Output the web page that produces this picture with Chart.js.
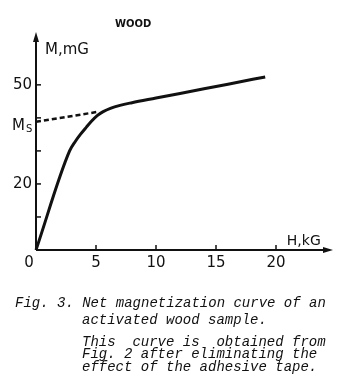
<!DOCTYPE html>
<html>
<head>
<meta charset="utf-8">
<script src="https://cdn.jsdelivr.net/npm/chart.js@4"></script>
<style>
  html, body { margin: 0; padding: 0; background: #fff; }
  #wrap { position: relative; width: 344px; height: 388px; overflow: hidden; }
  canvas { position: absolute; left: 0; top: 0; }
  .cap { position: absolute; font-family: "Liberation Mono", "DejaVu Sans Mono", monospace; font-style: italic; font-size: 14px; color: #111; white-space: pre; line-height: 14px; }
</style>
</head>
<body>
<div id="wrap">
  <canvas id="chart" width="344" height="388"></canvas>
  <div class="cap" style="left:15px; top:296px;">Fig. 3. Net magnetization curve of an</div>
  <div class="cap" style="left:82px; top:313px;">activated wood sample.</div>
  <div class="cap" style="left:82px; top:335px;">This  curve is  obtained from</div>
  <div class="cap" style="left:82px; top:347px;">Fig. 2 after eliminating the</div>
  <div class="cap" style="left:82px; top:360px;">effect of the adhesive tape.</div>
</div>
<script>
// magnetization curve (H in kG, M in mG)
const fieldH = [0, 2.8, 3.3, 3.7, 4.2, 4.6, 5.1, 5.6, 6.2, 7, 8, 10, 12, 14, 16, 19.1];
const magM = [0, 30, 33, 35, 37.2, 38.9, 40.7, 41.9, 42.9, 43.8, 44.6, 46, 47.4, 48.8, 50.2, 52.4];

// dashed extrapolation back to Ms
const dashH = [0, 5.1];
const dashM = [38.8, 41.8];

const xTicks = [5, 10, 15, 20];
const yTicks = [10, 20, 30, 40, 50];
const yTickLabels = { 20: "20", 50: "50" };
const msValue = 38.8;

const curvePts = fieldH.map((h, i) => ({ x: h, y: magM[i] }));
const dashPts = dashH.map((h, i) => ({ x: h, y: dashM[i] }));

const axesPlugin = {
  id: "handAxes",
  afterDraw(chart) {
    const ctx = chart.ctx;
    const xs = chart.scales.x;
    const ys = chart.scales.y;
    const x0 = xs.getPixelForValue(0);
    const y0 = ys.getPixelForValue(0);
    const area = chart.chartArea;

    ctx.save();
    ctx.strokeStyle = "#111";
    ctx.fillStyle = "#111";
    ctx.lineWidth = 2;
    ctx.lineCap = "butt";

    // y axis + arrow
    ctx.beginPath();
    ctx.moveTo(x0, y0);
    ctx.lineTo(x0, area.top + 4);
    ctx.stroke();
    ctx.beginPath();
    ctx.moveTo(x0, area.top);
    ctx.lineTo(x0 - 3, area.top + 10);
    ctx.lineTo(x0 + 3, area.top + 10);
    ctx.closePath();
    ctx.fill();

    // x axis + arrow
    ctx.beginPath();
    ctx.moveTo(x0, y0);
    ctx.lineTo(area.right - 4, y0);
    ctx.stroke();
    ctx.beginPath();
    ctx.moveTo(area.right, y0);
    ctx.lineTo(area.right - 10, y0 - 3);
    ctx.lineTo(area.right - 10, y0 + 3);
    ctx.closePath();
    ctx.fill();

    // ticks (inward)
    ctx.lineWidth = 1.5;
    xTicks.forEach(v => {
      const px = xs.getPixelForValue(v);
      ctx.beginPath();
      ctx.moveTo(px, y0);
      ctx.lineTo(px, y0 - 5);
      ctx.stroke();
    });
    yTicks.forEach(v => {
      const py = ys.getPixelForValue(v);
      ctx.beginPath();
      ctx.moveTo(x0, py);
      ctx.lineTo(x0 + 5, py);
      ctx.stroke();
    });

    // tick labels
    ctx.font = "15px 'DejaVu Sans'";
    ctx.textBaseline = "middle";
    ctx.textAlign = "center";
    xTicks.forEach(v => {
      ctx.fillText(String(v), xs.getPixelForValue(v), y0 + 13);
    });
    ctx.fillText("0", x0 - 7, y0 + 13);
    ctx.textAlign = "right";
    Object.keys(yTickLabels).forEach(v => {
      ctx.fillText(yTickLabels[v], x0 - 4, ys.getPixelForValue(Number(v)));
    });

    // Ms label
    const pyMs = ys.getPixelForValue(msValue);
    ctx.textAlign = "left";
    ctx.font = "15px 'DejaVu Sans'";
    ctx.fillText("M", 12, pyMs + 4);
    ctx.font = "10px 'DejaVu Sans'";
    ctx.fillText("S", 26, pyMs + 8);

    // axis titles
    ctx.font = "15px 'DejaVu Sans'";
    ctx.fillText("M,mG", x0 + 9, area.top + 18);
    ctx.font = "14px 'DejaVu Sans'";
    ctx.fillText("H,kG", xs.getPixelForValue(20.9), y0 - 9);

    // header
    ctx.font = "bold 10px 'DejaVu Sans'";
    ctx.textAlign = "left";
    ctx.fillText("WOOD", 115, 24);
    ctx.restore();
  }
};

new Chart(document.getElementById("chart"), {
  type: "scatter",
  data: {
    datasets: [
      {
        data: curvePts,
        showLine: true,
        borderColor: "#111",
        borderWidth: 3,
        pointRadius: 0,
        cubicInterpolationMode: "monotone",
        clip: false
      },
      {
        data: dashPts,
        showLine: true,
        borderColor: "#111",
        borderWidth: 2.5,
        borderDash: [5, 3],
        pointRadius: 0,
        clip: false
      }
    ]
  },
  options: {
    responsive: false,
    animation: false,
    layout: { padding: { left: 36, right: 11, top: 32, bottom: 138 } },
    plugins: { legend: { display: false }, tooltip: { enabled: false } },
    scales: {
      x: { type: "linear", min: 0, max: 24.75, display: false },
      y: { type: "linear", min: 0, max: 66, display: false }
    }
  },
  plugins: [axesPlugin]
});
</script>
</body>
</html>
